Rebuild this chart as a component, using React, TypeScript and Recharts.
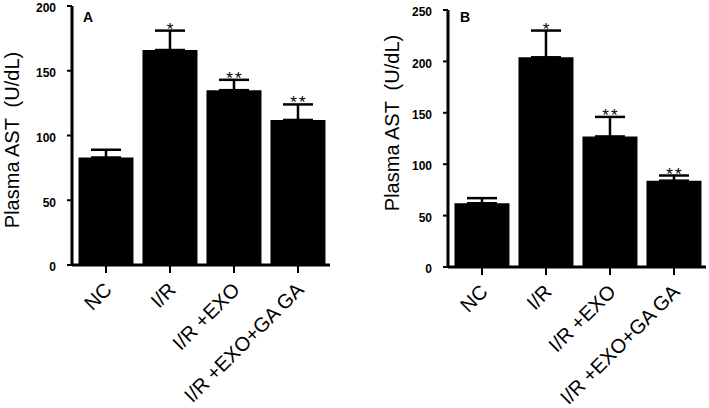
import React from 'react';
import { BarChart, Bar, XAxis, YAxis, ErrorBar } from 'recharts';

const categories = ['NC', 'I/R', 'I/R +EXO', 'I/R +EXO+GA GA'];
const astValuesA = [83, 166, 135, 112];
const astErrA = [6, 15, 8, 12];
const astValuesB = [62, 204, 127, 84];
const astErrB = [5, 26, 19, 5];
const significance = ['', '*', '**', '**'];
const ticksA = [0, 50, 100, 150, 200];
const ticksB = [0, 50, 100, 150, 200, 250];

const FONT = '"Liberation Sans", Arial, Helvetica, sans-serif';

const buildData = (vals: number[], errs: number[]) =>
  categories.map((c, i) => ({ name: c, value: vals[i], err: [0, errs[i]], sig: significance[i] }));

const dataA = buildData(astValuesA, astErrA);
const dataB = buildData(astValuesB, astErrB);

const XTick = (props: any) => {
  const { x, y, payload } = props;
  const ax = x + 7;
  const ay = y + 18;
  return (
    <text x={ax} y={ay} transform={`rotate(-45 ${ax} ${ay})`} textAnchor="end" fontSize={20} fontFamily={FONT} style={{ fill: '#000' }}>
      {payload.value}
    </text>
  );
};

const YTick = (props: any) => {
  const { x, y, payload } = props;
  return (
    <text x={x} y={y + 2} dy="0.355em" textAnchor="end" fontSize={12} fontWeight="bold" fontFamily={FONT} style={{ fill: '#000' }}>
      {payload.value}
    </text>
  );
};

const makeSigLabel = (vals: number[], errs: number[]) => (props: any) => {
  const { x, y, width, height, index } = props;
  const s = significance[index];
  if (!s) return null;
  const ppu = height / vals[index];
  const top = y - errs[index] * ppu;
  return (
    <text x={x + width / 2 + 1} y={top + 4} textAnchor="middle" fontSize={17} fontFamily={FONT} letterSpacing={2} style={{ fill: '#000', stroke: 'none' }}>
      {s}
    </text>
  );
};

const yLabel = (lx: number, ly: number) => () => (
  <text x={lx} y={ly} transform={`rotate(-90 ${lx} ${ly})`} textAnchor="middle" fontSize={20} fontFamily={FONT} style={{ whiteSpace: 'pre', fill: '#000' }}>
    {'Plasma AST  (U/dL)'}
  </text>
);

const Panel = (p: {
  data: any[]; vals: number[]; errs: number[]; ticks: number[]; max: number;
  width: number; margin: any; yWidth: number; label: any;
}) => (
  <BarChart width={p.width} height={408} data={p.data} margin={p.margin} barCategoryGap="7%">
    <XAxis
      dataKey="name"
      height={100}
      interval={0}
      tick={<XTick />}
      tickSize={8}
      tickMargin={0}
      padding={{ left: 2, right: 0 }}
      axisLine={{ stroke: '#000', strokeWidth: 3 }}
      tickLine={{ stroke: '#000', strokeWidth: 2 }}
    />
    <YAxis
      domain={[0, p.max]}
      ticks={p.ticks}
      width={p.yWidth}
      tickSize={5}
      tickMargin={11}
      interval={0}
      tick={<YTick />}
      axisLine={{ stroke: '#000', strokeWidth: 3 }}
      tickLine={{ stroke: '#000', strokeWidth: 2 }}
      label={p.label}
    />
    <Bar dataKey="value" fill="#000" isAnimationActive={false} label={makeSigLabel(p.vals, p.errs)}>
      <ErrorBar dataKey="err" width={15} stroke="#000" strokeWidth={2.5} direction="y" />
    </Bar>
  </BarChart>
);

export default function App() {
  return (
    <div style={{ position: 'absolute', left: 0, top: 0, width: 709, height: 408, background: '#fff', fontFamily: FONT }}>
      <div style={{ position: 'absolute', left: 0, top: 0 }}>
        <Panel data={dataA} vals={astValuesA} errs={astErrA} ticks={ticksA} max={200}
          width={350} margin={{ top: 6, right: 20, bottom: 43, left: 0 }} yWidth={72}
          label={{ content: yLabel(19, 140) }} />
      </div>
      <div style={{ position: 'absolute', left: 355, top: 0 }}>
        <Panel data={dataB} vals={astValuesB} errs={astErrB} ticks={ticksB} max={250}
          width={354} margin={{ top: 10, right: 3, bottom: 41, left: 0 }} yWidth={93}
          label={{ content: yLabel(44, 123) }} />
      </div>
      <div style={{ position: 'absolute', left: 83, top: 9, fontSize: 14, fontWeight: 'bold', lineHeight: '16px' }}>A</div>
      <div style={{ position: 'absolute', left: 460, top: 9, fontSize: 14, fontWeight: 'bold', lineHeight: '16px' }}>B</div>
    </div>
  );
}
